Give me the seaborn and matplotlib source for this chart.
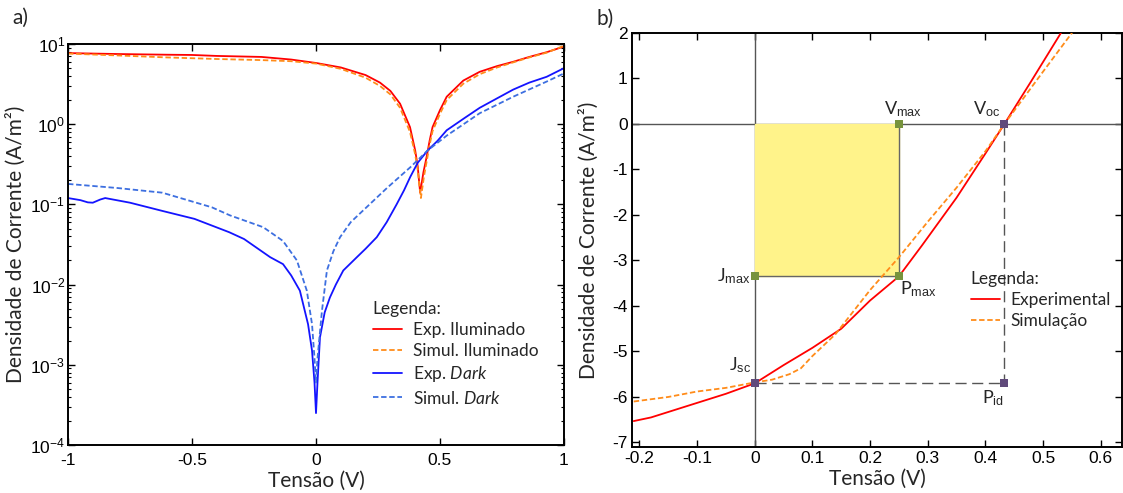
import numpy as np
import pandas as pd
import matplotlib
matplotlib.use("Agg")
import matplotlib.pyplot as plt
import seaborn as sns
from matplotlib.ticker import FixedLocator, FuncFormatter, LogLocator, NullFormatter

# ---------------- data: panel a) (log |J| vs V) ----------------
v_il_exp = [-1, -0.8, -0.6, -0.5, -0.4, -0.22, -0.1, 0, 0.1, 0.2, 0.258, 0.3, 0.339, 0.379, 0.4,
            0.41, 0.42, 0.433, 0.446, 0.458, 0.47, 0.5, 0.527, 0.594, 0.66, 0.73, 0.795, 0.86, 0.93, 1.0]
j_il_exp = [7.7, 7.5, 7.35, 7.3, 7.1, 6.9, 6.4, 5.8, 5.1, 4.1, 3.3, 2.6, 1.8, 0.92, 0.47,
            0.3, 0.14, 0.25, 0.39, 0.62, 0.92, 1.5, 2.2, 3.5, 4.5, 5.3, 6.0, 6.9, 7.9, 9.3]

v_il_sim = [-1, -0.8, -0.6, -0.4, -0.22, -0.1, 0, 0.1, 0.2, 0.258, 0.3, 0.339, 0.379, 0.4, 0.41,
            0.423, 0.435, 0.446, 0.458, 0.47, 0.5, 0.527, 0.594, 0.66, 0.73, 0.795, 0.86, 0.93, 1.0]
j_il_sim = [7.6, 7.2, 6.8, 6.5, 6.3, 6.1, 5.7, 4.9, 3.8, 3.0, 2.35, 1.6, 0.8, 0.42, 0.27,
            0.12, 0.22, 0.34, 0.55, 0.82, 1.35, 2.0, 3.2, 4.2, 5.1, 5.9, 6.8, 7.8, 9.5]

v_dk_exp = [-1, -0.95, -0.92, -0.9, -0.87, -0.85, -0.75, -0.62, -0.49, -0.35, -0.29, -0.185, -0.133,
            -0.1, -0.065, -0.032, -0.016, -0.006, 0, 0.006, 0.016, 0.035, 0.056, 0.08, 0.11, 0.165,
            0.2, 0.245, 0.285, 0.325, 0.355, 0.38, 0.41, 0.45, 0.49, 0.527, 0.6, 0.66, 0.73, 0.795,
            0.86, 0.93, 1.0]
j_dk_exp = [0.12, 0.113, 0.106, 0.105, 0.115, 0.12, 0.105, 0.083, 0.066, 0.045, 0.037, 0.022, 0.018,
            0.013, 0.0084, 0.0032, 0.0015, 0.0006, 0.00025, 0.0006, 0.0022, 0.0045, 0.0069, 0.01, 0.015,
            0.022, 0.028, 0.039, 0.06, 0.10, 0.15, 0.22, 0.33, 0.47, 0.62, 0.84, 1.2, 1.6, 2.1, 2.7,
            3.3, 3.9, 5.0]

v_dk_sim = [-1, -0.8, -0.62, -0.42, -0.347, -0.213, -0.133, -0.077, -0.037, -0.016, -0.006, 0, 0.006,
            0.024, 0.044, 0.07, 0.097, 0.14, 0.19, 0.286, 0.38, 0.45, 0.527, 0.66, 0.795, 0.93, 1.0]
j_dk_sim = [0.18, 0.16, 0.14, 0.092, 0.073, 0.052, 0.035, 0.02, 0.0084, 0.0032, 0.0012, 0.0006, 0.0012,
            0.0047, 0.015, 0.026, 0.039, 0.06, 0.084, 0.16, 0.29, 0.47, 0.72, 1.37, 2.2, 3.4, 4.3]

# ---------------- data: panel b) (J vs V, linear) ----------------
v_b_exp = [-0.21, -0.18, -0.15, -0.1, -0.05, 0, 0.05, 0.1, 0.15, 0.2, 0.25, 0.29, 0.35, 0.4,
           0.433, 0.48, 0.531, 0.56]
j_b_exp = [-6.53, -6.45, -6.33, -6.13, -5.93, -5.7, -5.3, -4.92, -4.5, -3.88, -3.35, -2.67, -1.62,
           -0.65, 0, 0.95, 2.0, 2.6]

v_b_sim = [-0.21, -0.15, -0.1, -0.05, 0, 0.03, 0.06, 0.08, 0.1, 0.14, 0.2, 0.25, 0.3, 0.35, 0.4,
           0.433, 0.5, 0.55, 0.58]
j_b_sim = [-6.1, -6.0, -5.88, -5.8, -5.68, -5.62, -5.5, -5.37, -5.1, -4.62, -3.65, -2.93, -2.15,
           -1.4, -0.6, 0, 1.15, 2.0, 2.5]

v_mp, j_mp = 0.25, -3.35
v_oc, j_sc = 0.433, -5.7

labels_a = ["Exp. Iluminado", "Simul. Iluminado", r"Exp. $\it{Dark}$", r"Simul. $\it{Dark}$"]
labels_b = ["Experimental", "Simulação"]

# ---------------- style ----------------
sns.set_style("ticks")
plt.rcParams["font.family"] = ["Lato", "DejaVu Sans"]
plt.rcParams["mathtext.fontset"] = "custom"
plt.rcParams["mathtext.rm"] = "Liberation Sans"
plt.rcParams["mathtext.it"] = "Lato:italic"
plt.rcParams["mathtext.bf"] = "Liberation Sans:bold"

TICKFONT = "Liberation Sans"
BLACK = "#000000"

fig = plt.figure(figsize=(11.23, 4.93), dpi=100)
W, H = 1123, 493
axa = fig.add_axes([68 / W, 1 - 445 / H, (564 - 68) / W, (445 - 44) / H])
axb = fig.add_axes([632 / W, 1 - 447 / H, (1122 - 632) / W, (447 - 33) / H])

# ---------------- panel a ----------------
sns.lineplot(x=v_il_exp, y=j_il_exp, ax=axa, color="#ff0000", lw=1.3, sort=False, estimator=None, label=labels_a[0])
sns.lineplot(x=v_il_sim, y=j_il_sim, ax=axa, color="#ff8c1a", lw=1.3, linestyle=(0, (3, 1.5)), sort=False, estimator=None, label=labels_a[1])
sns.lineplot(x=v_dk_exp, y=j_dk_exp, ax=axa, color="#1414ff", lw=1.3, sort=False, estimator=None, label=labels_a[2])
sns.lineplot(x=v_dk_sim, y=j_dk_sim, ax=axa, color="#3d6fe0", lw=1.3, linestyle=(0, (3, 1.5)), sort=False, estimator=None, label=labels_a[3])

axa.set_yscale("log")
axa.set_xlim(-1, 1)
axa.set_ylim(1e-4, 1e1)
axa.xaxis.set_major_locator(FixedLocator([-1, -0.5, 0, 0.5, 1]))
axa.xaxis.set_major_formatter(FuncFormatter(lambda x, p: f"{x:g}"))
axa.yaxis.set_major_locator(LogLocator(base=10, numticks=10))
axa.yaxis.set_minor_locator(LogLocator(base=10, subs=np.arange(2, 10), numticks=20))
axa.yaxis.set_minor_formatter(NullFormatter())
axa.yaxis.set_major_formatter(FuncFormatter(lambda y, p: r"10$^{%d}$" % int(round(np.log10(y)))))
axa.set_xlabel("Tensão (V)", fontsize=15, labelpad=2)
axa.set_ylabel("Densidade de Corrente (A/m²)", fontsize=15, labelpad=3)

leg = axa.legend(title="Legenda:", frameon=False, loc="upper left",
                 bbox_to_anchor=(364 / W, 1 - 292 / H), bbox_transform=fig.transFigure,
                 fontsize=12.5, title_fontsize=12.5, handlelength=1.7, handletextpad=0.6,
                 labelspacing=0.3, borderpad=0, alignment="left")

# ---------------- panel b ----------------
axb.axhline(0, color="#555555", lw=1, zorder=1)
axb.axvline(0, color="#555555", lw=1, zorder=1)
axb.fill_between([0, v_mp], [0, 0], [j_mp, j_mp], color="#fff38a", zorder=1.5)
axb.plot([0, v_mp, v_mp], [j_mp, j_mp, 0], color="#666666", lw=1, zorder=1.6)
axb.plot([0, v_oc], [j_sc, j_sc], color="#555555", lw=1, dashes=(8, 4), zorder=1.6)
axb.plot([v_oc, v_oc], [0, j_sc], color="#555555", lw=1, dashes=(8, 4), zorder=1.6)

sns.lineplot(x=v_b_exp, y=j_b_exp, ax=axb, color="#ff0000", lw=1.3, sort=False, estimator=None, label=labels_b[0], zorder=3)
sns.lineplot(x=v_b_sim, y=j_b_sim, ax=axb, color="#ff8c1a", lw=1.3, linestyle=(0, (3, 1.5)), sort=False, estimator=None, label=labels_b[1], zorder=3)

green = "#77933c"
purple = "#604a7b"
axb.scatter([v_mp, 0, v_mp], [0, j_mp, j_mp], marker="s", s=28, color=green, zorder=4, linewidths=0)
axb.scatter([v_oc, 0, v_oc], [0, j_sc, j_sc], marker="s", s=28, color=purple, zorder=4, linewidths=0)

afs = 13
axb.text(0.257, 0.12, r"V$_{\mathrm{max}}$", ha="center", va="bottom", fontsize=afs)
axb.text(0.402, 0.12, r"V$_{\mathrm{oc}}$", ha="center", va="bottom", fontsize=afs)
axb.text(-0.008, j_mp, r"J$_{\mathrm{max}}$", ha="right", va="center", fontsize=afs)
axb.text(0.252, -3.42, r"P$_{\mathrm{max}}$", ha="left", va="top", fontsize=afs)
axb.text(-0.025, -5.52, r"J$_{\mathrm{sc}}$", ha="center", va="bottom", fontsize=afs)
axb.text(0.413, -5.8, r"P$_{\mathrm{id}}$", ha="center", va="top", fontsize=afs)

axb.set_xlim(-0.213, 0.637)
axb.set_ylim(-7.1, 2)
axb.xaxis.set_major_locator(FixedLocator([-0.2, -0.1, 0, 0.1, 0.2, 0.3, 0.4, 0.5, 0.6]))
axb.yaxis.set_major_locator(FixedLocator(list(range(-7, 3))))
axb.xaxis.set_major_formatter(FuncFormatter(lambda x, p: f"{x:g}"))
axb.yaxis.set_major_formatter(FuncFormatter(lambda y, p: f"{y:g}"))
axb.set_xlabel("Tensão (V)", fontsize=15, labelpad=2)
axb.set_ylabel("Densidade de Corrente (A/m²)", fontsize=15, labelpad=10)

legb = axb.legend(title="Legenda:", frameon=False, loc="upper left",
                  bbox_to_anchor=(962 / W, 1 - 262 / H), bbox_transform=fig.transFigure,
                  fontsize=12.5, title_fontsize=12.5, handlelength=1.7, handletextpad=0.6,
                  labelspacing=0.3, borderpad=0, alignment="left")

for ax in (axa, axb):
    for s in ax.spines.values():
        s.set_visible(True)
        s.set_color(BLACK)
        s.set_linewidth(1.4)
    ax.tick_params(which="both", direction="in", top=True, right=True, colors=BLACK)
    ax.tick_params(which="major", length=5, width=1, labelsize=12.5, pad=3)
    ax.tick_params(which="minor", length=2.5, width=0.8)
    for lab in ax.get_xticklabels() + ax.get_yticklabels():
        lab.set_fontfamily(TICKFONT)

axa.tick_params(axis="x", which="major", pad=6)
axa.tick_params(axis="y", which="major", pad=2)

fig.text(12 / W, 1 - 18 / H, "a)", fontsize=15, ha="left", va="center")
fig.text(596 / W, 1 - 19 / H, "b)", fontsize=15, ha="left", va="center")

fig.savefig("out.png", dpi=100)
